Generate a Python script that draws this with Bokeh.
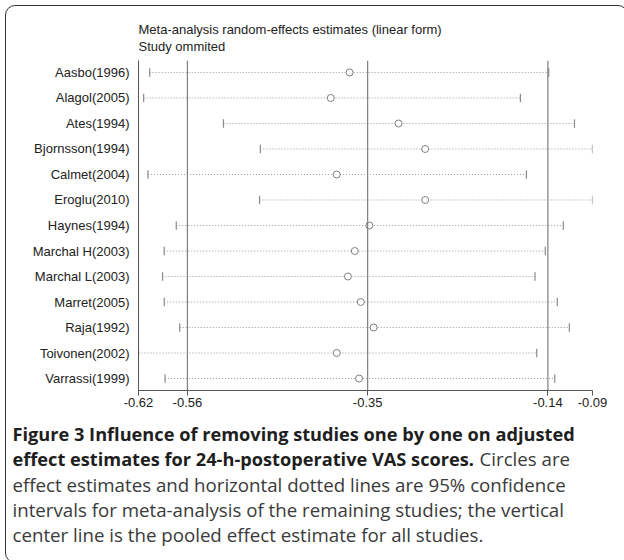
from bokeh.plotting import figure
from bokeh.models import (Range1d, FixedTicker, NumeralTickFormatter, Span, Label,
                          ColumnDataSource, InlineStyleSheet)
from bokeh.embed import file_html
from bokeh.resources import INLINE

# Leave-one-out sensitivity analysis: pooled estimate with each study omitted
studies = ["Aasbo(1996)", "Alagol(2005)", "Ates(1994)", "Bjornsson(1994)", "Calmet(2004)",
           "Eroglu(2010)", "Haynes(1994)", "Marchal H(2003)", "Marchal L(2003)",
           "Marret(2005)", "Raja(1992)", "Toivonen(2002)", "Varrassi(1999)"]
estimate = [-0.371, -0.393, -0.314, -0.283, -0.386, -0.283, -0.348, -0.365, -0.373,
            -0.358, -0.343, -0.386, -0.360]
lower = [-0.604, -0.611, -0.518, -0.475, -0.606, -0.476, -0.573, -0.587, -0.589,
         -0.587, -0.569, -0.617, -0.586]
upper = [-0.139, -0.172, -0.109, -0.088, -0.165, -0.088, -0.122, -0.143, -0.155,
         -0.129, -0.115, -0.153, -0.132]

# Pooled estimate for all studies and its 95% CI
pooled = -0.35
pooled_lower = -0.56
pooled_upper = -0.14

rows = list(range(1, len(studies) + 1))
x_min = min(lower)
x_max = max(upper)
axis_ticks = [x_min, pooled_lower, pooled, pooled_upper, x_max]

src = ColumnDataSource(dict(
    row=rows, est=estimate, lo=lower, hi=upper,
    row_a=[r - 0.17 for r in rows], row_b=[r + 0.17 for r in rows],
))

LABEL_FONT = "Liberation Sans"
CAP_FONT = "Open Sans"

p = figure(width=624, height=560, output_backend="svg", toolbar_location=None,
           x_range=Range1d(x_min, x_max), y_range=Range1d(13.47, 0.53),
           min_border_left=138, min_border_right=32, min_border_top=60,
           min_border_bottom=170)
p.outline_line_color = None
p.xgrid.visible = False
p.ygrid.visible = False
p.background_fill_color = "white"
p.border_fill_color = "white"

# rounded frame drawn around the whole figure (right and bottom run past the page)
p.stylesheets = [InlineStyleSheet(css="""
:host { position: relative; overflow: hidden; }
:host::after {
  content: ""; position: absolute; left: 5px; top: 5px;
  width: 623px; height: 558px; box-sizing: border-box;
  border: 1.5px solid #333333; border-radius: 10px; pointer-events: none;
}
""")]

# reference lines: pooled estimate and its CI limits
for v in (pooled_lower, pooled, pooled_upper):
    p.add_layout(Span(location=v, dimension="height", line_color="#7f7f7f", line_width=1.2))

# confidence intervals with omitted study
p.segment(x0="lo", y0="row", x1="hi", y1="row", source=src,
          line_color="#999999", line_width=1, line_dash="1 2")
p.segment(x0="lo", y0="row_a", x1="lo", y1="row_b", source=src,
          line_color="#8a8a8a", line_width=1.2)
p.segment(x0="hi", y0="row_a", x1="hi", y1="row_b", source=src,
          line_color="#8a8a8a", line_width=1.2)
p.scatter(x="est", y="row", source=src, marker="circle", size=7,
          fill_color="white", line_color="#808080", line_width=1)

# x axis
xa = p.xaxis[0]
xa.ticker = FixedTicker(ticks=axis_ticks)
xa.formatter = NumeralTickFormatter(format="0.00")
xa.axis_line_color = "#555555"
xa.major_tick_line_color = "#555555"
xa.major_tick_out = 5
xa.major_tick_in = 0
xa.minor_tick_line_color = None
xa.major_label_standoff = 2
xa.major_label_text_font = LABEL_FONT
xa.major_label_text_font_size = "13px"
xa.major_label_text_color = "#222222"

# y axis with study names
ya = p.yaxis[0]
ya.ticker = FixedTicker(ticks=rows)
ya.major_label_overrides = {r: s for r, s in zip(rows, studies)}
ya.axis_line_color = "#555555"
ya.major_tick_line_color = None
ya.minor_tick_line_color = None
ya.major_tick_out = 0
ya.major_tick_in = 0
ya.major_label_standoff = 9
ya.major_label_text_font = LABEL_FONT
ya.major_label_text_font_size = "13px"
ya.major_label_text_color = "#222222"


def canvas_label(txt, x, y, font, size, color, style="normal"):
    """Free text placed in canvas pixels (y measured from the top)."""
    return Label(x=x, y=y, x_units="canvas", y_units="canvas", text=txt,
                 text_font=font, text_font_style=style, text_font_size=size,
                 text_color=color, text_baseline="middle", text_align="left")


# header lines above the panel
p.add_layout(canvas_label("Meta-analysis random-effects estimates (linear form)", 138, 29,
                          LABEL_FONT, "13px", "#222222"), "above")
p.add_layout(canvas_label("Study ommited", 138, 46, LABEL_FONT, "13px", "#222222"), "above")

# figure caption
BOLD_SIZE = "18.2px"
PLAIN_SIZE = "18.7px"
p.add_layout(canvas_label("Figure 3 Influence of removing studies one by one on adjusted",
                          12, 433, CAP_FONT, BOLD_SIZE, "#1e1e1e", "bold"), "below")
p.add_layout(canvas_label("effect estimates for 24-h-postoperative VAS scores.",
                          12, 458, CAP_FONT, BOLD_SIZE, "#1e1e1e", "bold"), "below")
plain_lines = [("Circles are", 479, 458),
               ("effect estimates and horizontal dotted lines are 95% confidence", 12, 484),
               ("intervals for meta-analysis of the remaining studies; the vertical", 12, 509),
               ("center line is the pooled effect estimate for all studies.", 12, 534)]
for txt, xx, yy in plain_lines:
    p.add_layout(canvas_label(txt, xx, yy, CAP_FONT, PLAIN_SIZE, "#3a3a3a"), "below")

open("out.html", "w").write(file_html(p, INLINE))
